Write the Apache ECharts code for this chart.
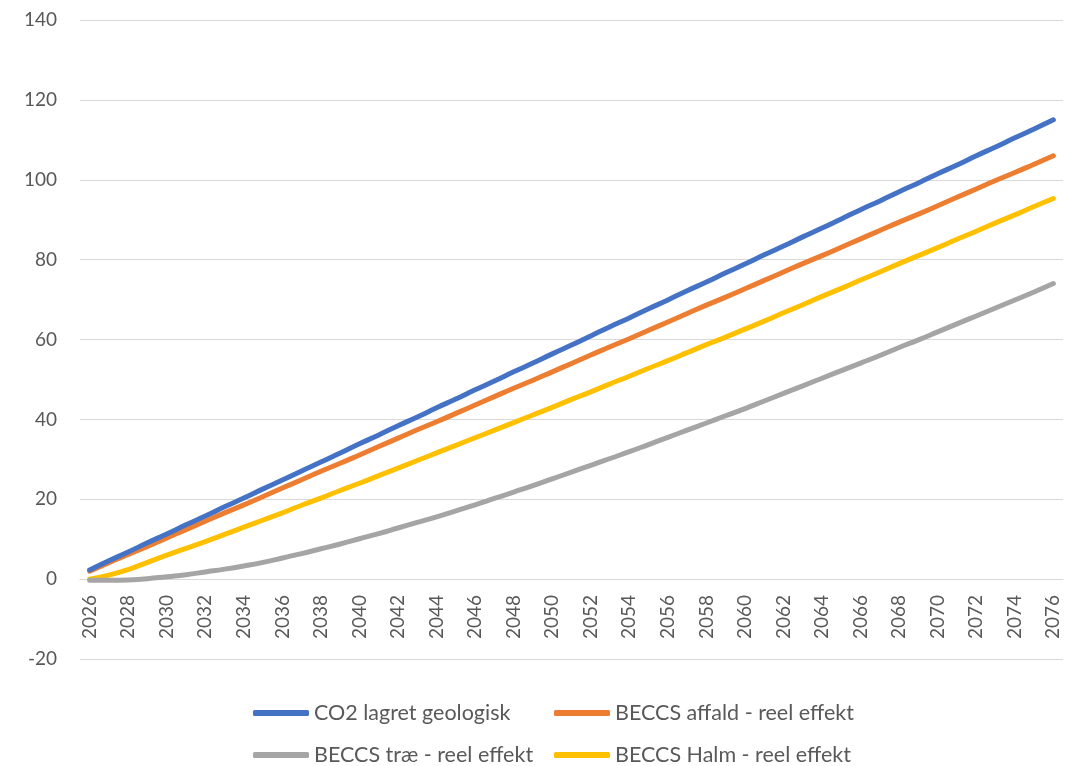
<!DOCTYPE html>
<html>
<head>
<meta charset="utf-8">
<script src="https://cdn.jsdelivr.net/npm/echarts@6/dist/echarts.min.js"></script>
<style>
  html, body { margin: 0; padding: 0; background: #ffffff; }
  #chart { width: 1076px; height: 766px; }
</style>
</head>
<body>
<div id="chart"></div>
<script>
// Years 2026–2076
const years = [];
for (let y = 2026; y <= 2076; y++) years.push(String(y));

const co2Lagret = [2.3, 4.6, 6.8, 9.1, 11.3, 13.6, 15.8, 18.1, 20.3, 22.6,
  24.8, 27.1, 29.3, 31.6, 33.9, 36.1, 38.4, 40.6, 42.9, 45.1,
  47.4, 49.6, 51.9, 54.1, 56.4, 58.6, 60.9, 63.2, 65.4, 67.7,
  69.9, 72.2, 74.4, 76.7, 78.9, 81.2, 83.4, 85.7, 87.9, 90.2,
  92.5, 94.7, 97.0, 99.2, 101.5, 103.7, 106.0, 108.2, 110.5, 112.7, 115.0];

const beccsAffald = [2.0, 4.1, 6.2, 8.2, 10.3, 12.4, 14.5, 16.6, 18.6, 20.7,
  22.8, 24.9, 27.0, 29.0, 31.1, 33.2, 35.3, 37.4, 39.4, 41.5,
  43.6, 45.7, 47.8, 49.8, 51.9, 54.0, 56.1, 58.2, 60.2, 62.3,
  64.4, 66.5, 68.6, 70.6, 72.7, 74.8, 76.9, 79.0, 81.0, 83.1,
  85.2, 87.3, 89.4, 91.4, 93.5, 95.6, 97.7, 99.8, 101.8, 103.9, 106.0];

const beccsTrae = [-0.3, -0.3, -0.2, 0.1, 0.6, 1.1, 1.8, 2.5, 3.3, 4.2,
  5.3, 6.4, 7.6, 8.8, 10.1, 11.4, 12.8, 14.2, 15.6, 17.1,
  18.6, 20.2, 21.8, 23.4, 25.1, 26.8, 28.5, 30.2, 31.9, 33.7,
  35.5, 37.3, 39.1, 40.9, 42.7, 44.6, 46.5, 48.4, 50.3, 52.2,
  54.1, 56.0, 58.0, 59.9, 61.9, 63.9, 65.9, 67.9, 69.9, 71.9, 74.0];

const beccsHalm = [0.0, 1.0, 2.4, 4.2, 6.0, 7.7, 9.4, 11.2, 13.0, 14.8,
  16.6, 18.5, 20.3, 22.2, 24.0, 25.9, 27.8, 29.7, 31.6, 33.5,
  35.4, 37.3, 39.2, 41.1, 43.0, 45.0, 46.9, 48.9, 50.8, 52.8,
  54.7, 56.7, 58.7, 60.6, 62.6, 64.6, 66.7, 68.7, 70.8, 72.8,
  74.9, 76.9, 79.0, 81.0, 83.0, 85.1, 87.1, 89.2, 91.2, 93.3, 95.3];

const seriesNames = ['CO2 lagret geologisk', 'BECCS affald - reel effekt',
  'BECCS træ - reel effekt', 'BECCS Halm - reel effekt'];
const seriesColors = ['#4472C4', '#ED7D31', '#A5A5A5', '#FFC000'];
const seriesData = [co2Lagret, beccsAffald, beccsTrae, beccsHalm];

const font = 'Lato, "Open Sans", sans-serif';
const chart = echarts.init(document.getElementById('chart'), null, { renderer: 'canvas' });

// Two legend rows with fixed-width text so the columns line up
function legendRow(top, names) {
  return {
    left: 248,
    top: top,
    orient: 'horizontal',
    itemWidth: 56,
    itemHeight: 6,
    itemGap: 10,
    icon: 'roundRect',
    textStyle: { color: '#595959', fontSize: 21.5, fontFamily: font, width: 230, lineHeight: 26 },
    data: names
  };
}

chart.setOption({
  animation: false,
  backgroundColor: '#ffffff',
  grid: { left: 80, right: 13, top: 20, bottom: 107, containLabel: false },
  legend: [
    legendRow(695, seriesNames.slice(0, 2)),
    legendRow(737, seriesNames.slice(2, 4))
  ],
  xAxis: {
    type: 'category',
    data: years,
    boundaryGap: true,
    axisLine: { onZero: true, lineStyle: { color: '#D9D9D9', width: 1 } },
    axisTick: { show: false },
    // labels sit just under the zero line, inside the band down to -20
    axisLabel: { interval: 1, rotate: 90, color: '#595959', fontSize: 19, fontFamily: font, margin: -64 },
    splitLine: { show: false }
  },
  yAxis: {
    type: 'value',
    min: -20,
    max: 140,
    interval: 20,
    axisLine: { show: false },
    axisTick: { show: false },
    axisLabel: { color: '#595959', fontSize: 19, fontFamily: font, margin: 23 },
    splitLine: { lineStyle: { color: '#D9D9D9', width: 1 } }
  },
  series: seriesNames.map((name, i) => ({
    name: name,
    type: 'line',
    data: seriesData[i],
    smooth: true,
    showSymbol: false,
    symbol: 'none',
    color: seriesColors[i],
    lineStyle: { width: 5, color: seriesColors[i], cap: 'round', join: 'round' },
    z: 10 - i
  }))
});
</script>
</body>
</html>
